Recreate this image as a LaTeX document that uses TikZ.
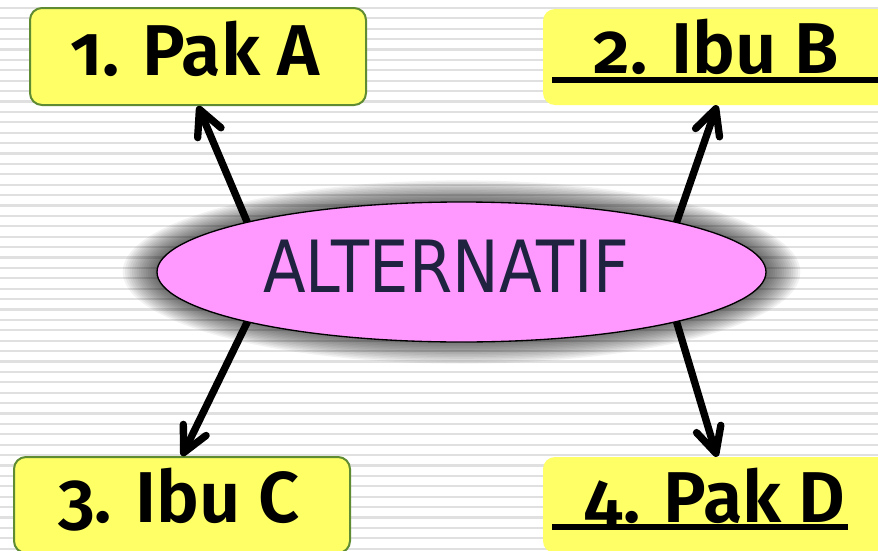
\documentclass[tikz,border=0pt]{standalone}
\usepackage{fontspec}
\setmainfont{Fira Sans}
\newfontfamily\boxfont[Numbers=OldStyle]{Fira Sans SemiBold}
\newfontfamily\ellfont{DejaVu Sans}
\usetikzlibrary{arrows.meta,shapes.geometric}

\definecolor{boxyellow}{RGB}{255,255,102}
\definecolor{boxgreen}{RGB}{95,140,50}
\definecolor{ovalpink}{RGB}{255,153,255}
\definecolor{ovaltext}{RGB}{31,35,64}
\definecolor{stripegray}{RGB}{224,224,224}

\tikzset{
  card/.style={rectangle, rounded corners=9pt, fill=boxyellow, inner sep=0pt},
  framedcard/.style={card, draw=boxgreen, line width=1.5pt},
  cardtext/.style={anchor=base, inner sep=0pt, font=\boxfont\fontsize{54}{60}\selectfont},
  ulrule/.style={line width=4.5pt},
  pointer/.style={line width=5.5pt, line cap=round,
    -{Straight Barb[length=19pt, width=19pt, round]}},
  oval/.style={ellipse, fill=ovalpink, draw=black, line width=1pt,
    minimum width=456.75pt, minimum height=105pt, inner sep=0pt},
}

\begin{document}
\begin{tikzpicture}[x=0.75pt, y=-0.75pt]
  \useasboundingbox (0,0) rectangle (878,550);
  \clip (0,0) rectangle (878,550);

  % striped background
  \fill[white] (0,0) rectangle (878,550);
  \foreach \k in {0,...,54}
    \fill[stripegray] (0,{-3.7+10.4*\k}) rectangle (878,{-1.4+10.4*\k});

  % cards
  \node[framedcard, minimum width=252pt, minimum height=72.75pt] (boxA) at (198,56.5) {};
  \node[card, minimum width=261pt, minimum height=72pt] (boxB) at (717,57) {};
  \node[framedcard, minimum width=252pt, minimum height=72pt] (boxC) at (182,505) {};
  \node[card, minimum width=261pt, minimum height=72pt] (boxD) at (717,505) {};

  % soft shadow of the oval
  \foreach \i in {1,...,16}
    \fill[black, opacity=0.05] (461.5,272) ellipse ({302+2.3*\i} and {66+1.6*\i});

  % hidden starting points of the arrows
  \coordinate (sA) at (259,250);
  \coordinate (sB) at (667,250);
  \coordinate (sC) at (258,300);
  \coordinate (sD) at (670,300);

  \draw[pointer] (sA) -- (boxA.south);
  \draw[pointer] (sB) -- (boxB.south);
  \draw[pointer] (sC) -- (boxC.north);
  \draw[pointer] (sD) -- (boxD.north);

  % central oval
  \node[oval] (alt) at (461.5,272) {};
  \node[anchor=base, inner sep=0pt, text=ovaltext,
        font=\ellfont\fontsize{54}{60}\selectfont] (altlabel) at (446,292)
        {\scalebox{0.865}[1]{ALTERNATIF}};

  % card labels
  \node[cardtext] (tA) at (195,75) {1. Pak A};
  \node[cardtext] (tB) at (716,73) {2. Ibu B};
  \node[cardtext] (tC) at (179,522) {3. Ibu C};
  \node[cardtext] (tD) at (715,522) {4. Pak D};

  % underlines of the right-hand labels
  \coordinate (uB1) at (552,80);
  \coordinate (uB2) at (890,80);
  \coordinate (uD1) at (552,527);
  \coordinate (uD2) at (848,527);
  \draw[ulrule] (uB1) -- (uB2);
  \draw[ulrule] (uD1) -- (uD2);
\end{tikzpicture}
\end{document}
